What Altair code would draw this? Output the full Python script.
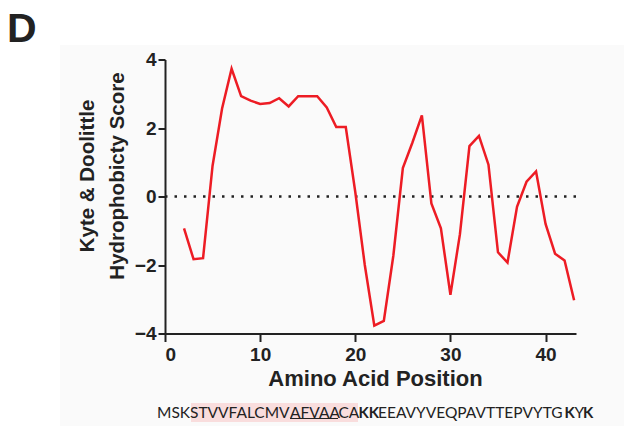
import altair as alt
import pandas as pd

# Kyte & Doolittle hydrophobicity (window of 3) along the peptide
positions = list(range(2, 44))
scores = [-0.93, -1.83, -1.80, 0.90, 2.57, 3.73, 2.93, 2.80, 2.70, 2.73,
          2.87, 2.63, 2.93, 2.93, 2.93, 2.60, 2.03, 2.03, 0.13, -2.00,
          -3.77, -3.63, -1.73, 0.83, 1.57, 2.37, -0.20, -0.93, -2.87, -1.10,
          1.47, 1.77, 0.93, -1.63, -1.93, -0.30, 0.43, 0.73, -0.80, -1.67,
          -1.87, -3.03]

x_ticks = [0, 10, 20, 30, 40]
y_ticks = [-4, -2, 0, 2, 4]

# Peptide sequence, split into runs that share a text style
seq_text = ["MSK", "STVVFALCMV", "AFVAA", "CA", "KK",
            "EEAVYVEQPAVTTEPVYTG", "K", "Y", "K"]
seq_bold = [False, False, False, False, True, False, True, False, True]

# ---- layout (page pixels) ----
PAD_L, PAD_T = 165, 59.5
W, H = 411, 274
seq_x_page = [157, 190, 290, 338.5, 358.5, 378, 564.5, 574.5, 583]
SEQ_BASE = 418

INK = "#222222"
RED = "#ED1C24"
FONT = "Liberation Sans"
SEQ_FONT = "Lato"
SEQ_SIZE = 15.5
SEQ_BOLD_SIZE = 15


def px(v):
    return v - PAD_L


def py(v):
    return v - PAD_T


def one():
    return alt.Data(values=[{"k": 0}])


line_df = pd.DataFrame({"pos": positions, "score": scores})

panel = alt.Chart(one()).mark_rect(color="#fafafa").encode(
    x=alt.value(px(60)), x2=alt.value(px(624)),
    y=alt.value(py(45)), y2=alt.value(py(426)),
)

zero = alt.Chart(pd.DataFrame({"y0": [0]})).mark_rule(
    color=INK, strokeWidth=2.5, strokeDash=[2.5, 7]
).encode(y=alt.Y("y0:Q"))

line = alt.Chart(line_df).mark_line(color=RED, strokeWidth=2.5).encode(
    x=alt.X(
        "pos:Q",
        scale=alt.Scale(domain=[0, 43.2], nice=False, zero=False),
        axis=alt.Axis(
            values=x_ticks, title="Amino Acid Position", grid=False, zindex=2,
            domainColor=INK, domainWidth=2, tickColor=INK, tickWidth=2,
            tickSize=8, labelFont=FONT, labelFontWeight="bold",
            labelFontSize=19, labelColor=INK, labelPadding=4,
            titleFont=FONT, titleFontWeight="bold", titleFontSize=22,
            titleColor=INK, titleX=210, titleY=52,
            titleBaseline="alphabetic", titleAlign="center",
        ),
    ),
    y=alt.Y(
        "score:Q",
        scale=alt.Scale(domain=[-4, 4], nice=False),
        axis=alt.Axis(
            values=y_ticks, title=["Kyte & Doolittle", "Hydrophobicty Score"],
            grid=False, zindex=2, domainColor=INK, domainWidth=2,
            tickColor=INK, tickWidth=2, tickSize=7, labelFont=FONT,
            labelFontWeight="bold", labelFontSize=19, labelColor=INK,
            labelPadding=2, titleFont=FONT, titleFontWeight="bold",
            titleFontSize=20.5, titleColor=INK, titleAngle=270,
            titleX=px(93), titleY=116, titleBaseline="alphabetic",
            titleAlign="center", titleLineHeight=30,
        ),
    ),
)

panel_letter = alt.Chart(one()).mark_text(
    text="D", font=FONT, fontWeight="bold", fontSize=41, color=INK,
    align="left", baseline="alphabetic",
).encode(x=alt.value(px(7)), y=alt.value(py(42)))

highlight = alt.Chart(one()).mark_rect(color="#f9dddd").encode(
    x=alt.value(px(191)), x2=alt.value(px(358)),
    y=alt.value(py(403)), y2=alt.value(py(422)),
)

underline = alt.Chart(one()).mark_rule(color=INK, strokeWidth=1.2).encode(
    x=alt.value(px(290)), x2=alt.value(px(338)),
    y=alt.value(py(418.5)),
)

# one text layer per run of the sequence
seq_layers = []
for txt, bold, sx in zip(seq_text, seq_bold, seq_x_page):
    seq_layers.append(
        alt.Chart(one()).mark_text(
            text=txt, font=SEQ_FONT,
            fontSize=SEQ_BOLD_SIZE if bold else SEQ_SIZE,
            fontWeight="bold" if bold else "normal", color=INK,
            align="left", baseline="alphabetic",
        ).encode(x=alt.value(px(sx)), y=alt.value(py(SEQ_BASE)))
    )

chart = alt.layer(
    panel, zero, line, panel_letter, highlight, underline, *seq_layers
).properties(
    width=W, height=H,
    autosize=alt.AutoSizeParams(type="none"),
    padding={"left": PAD_L, "top": PAD_T, "right": 624 - PAD_L - W,
             "bottom": 426 - PAD_T - H},
    background="white",
).configure_view(stroke=None)

chart.save("out.html", embed_options={"renderer": "svg", "actions": False})
